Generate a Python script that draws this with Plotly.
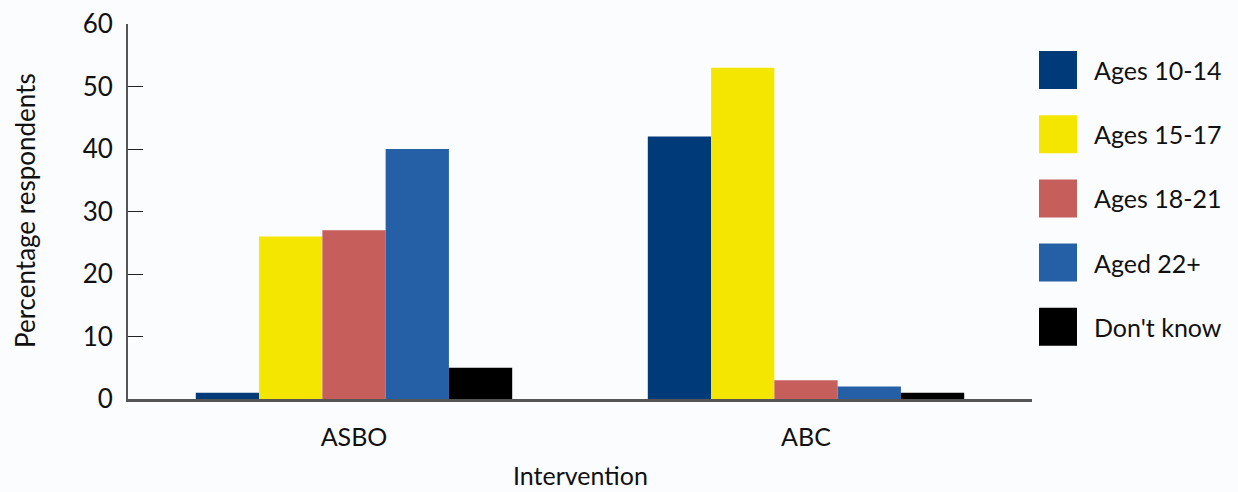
import plotly.graph_objects as go

# Survey results: share of respondents per age group, by intervention
interventions = ["ASBO", "ABC"]
age_groups = ["Ages 10-14", "Ages 15-17", "Ages 18-21", "Aged 22+", "Don't know"]
asbo_values = [1, 26, 27, 40, 5]
abc_values = [42, 53, 3, 2, 1]
colors = ["#003a78", "#f5e600", "#c65e5b", "#2560a6", "#000000"]

y_ticks = [0, 10, 20, 30, 40, 50, 60]

FONT = "Lato, 'Open Sans', sans-serif"
BG = "#fbfcfe"
TEXT = "#111111"

# Plot area in pixels
L, R, T, B = 128, 1032, 24, 399
PW, PH = R - L, B - T


def px_x(x):
    return (x - L) / PW


def px_y(y):
    return (B - y) / PH


fig = go.Figure()
for i, name in enumerate(age_groups):
    fig.add_trace(go.Bar(
        name=name,
        x=interventions,
        y=[asbo_values[i], abc_values[i]],
        marker=dict(color=colors[i], line=dict(width=0)),
        showlegend=False,
    ))

# Legend drawn as large square swatches with labels on the right
for i, name in enumerate(age_groups):
    cy = 70 + i * 64.2
    fig.add_shape(
        type="rect", xref="paper", yref="paper",
        x0=px_x(1039), x1=px_x(1077),
        y0=px_y(cy + 19), y1=px_y(cy - 19),
        fillcolor=colors[i], line=dict(width=0), layer="above",
    )
    fig.add_annotation(
        xref="paper", yref="paper",
        x=px_x(1092), y=px_y(cy),
        text=name, showarrow=False,
        xanchor="left", yanchor="middle",
        font=dict(family=FONT, size=25, color=TEXT),
    )

# Axis titles
fig.add_annotation(
    xref="paper", yref="paper", x=0.5, y=px_y(475),
    text="Intervention", showarrow=False,
    xanchor="center", yanchor="middle",
    font=dict(family=FONT, size=25, color=TEXT),
)
fig.add_annotation(
    xref="paper", yref="paper", x=px_x(25), y=px_y(211),
    text="Percentage respondents", showarrow=False, textangle=-90,
    xanchor="center", yanchor="middle",
    font=dict(family=FONT, size=26, color=TEXT),
)

fig.update_layout(
    width=1238, height=492,
    margin=dict(l=L, r=1238 - R, t=T, b=492 - B),
    paper_bgcolor=BG, plot_bgcolor=BG,
    barmode="group",
    bargap=0.3, bargroupgap=0,
    font=dict(family=FONT, size=25, color=TEXT),
    xaxis=dict(
        automargin=False,
        showline=True, linecolor="#555555", linewidth=3,
        ticks="", ticklabelstandoff=14,
        tickfont=dict(size=25),
        showgrid=False, zeroline=False,
    ),
    yaxis=dict(
        automargin=False,
        range=[0, 60], tickvals=y_ticks,
        showline=True, linecolor="#555555", linewidth=2,
        ticks="inside", ticklen=15, tickcolor="#222222", tickwidth=1,
        ticklabelstandoff=8,
        tickfont=dict(size=26),
        showgrid=False, zeroline=False,
    ),
)

fig.write_html("out.html")
